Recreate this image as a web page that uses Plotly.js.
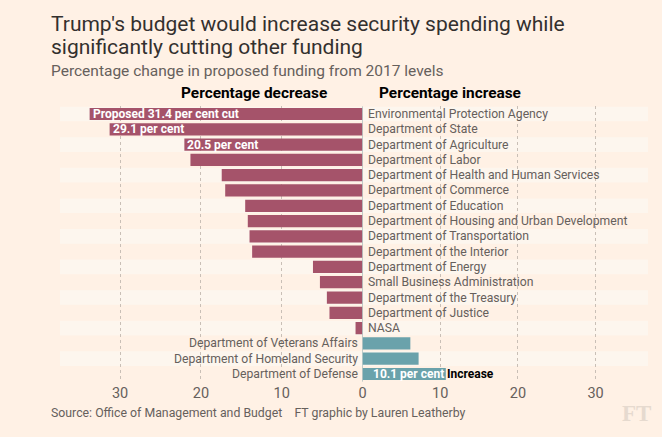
<!DOCTYPE html>
<html>
<head>
<meta charset="utf-8">
<script src="https://cdn.plot.ly/plotly-3.0.1.min.js"></script>
<style>
  html, body { margin: 0; padding: 0; background: #fff1e5; }
  #chart { width: 662px; height: 437px; }
</style>
</head>
<body>
<div id="chart"></div>
<script>
// ---- Data ----
const categories = [
  'Environmental Protection Agency',
  'Department of State',
  'Department of Agriculture',
  'Department of Labor',
  'Department of Health and Human Services',
  'Department of Commerce',
  'Department of Education',
  'Department of Housing and Urban Development',
  'Department of Transportation',
  'Department of the Interior',
  'Department of Energy',
  'Small Business Administration',
  'Department of the Treasury',
  'Department of Justice',
  'NASA',
  'Department of Veterans Affairs',
  'Department of Homeland Security',
  'Department of Defense'
];
const changePct = [-31.4, -29.1, -20.5, -19.8, -16.2, -15.8, -13.5, -13.2, -13.0, -12.7,
                   -5.7, -4.9, -4.1, -3.8, -0.8, 5.8, 6.8, 10.1];
const barLabels = {
  'Environmental Protection Agency': 'Proposed 31.4 per cent cut',
  'Department of State': '29.1 per cent',
  'Department of Agriculture': '20.5 per cent',
  'Department of Defense': '10.1 per cent'
};
const tickValsLeft = [-30, -20, -10, 0];
const tickTextLeft = ['30', '20', '10', '0'];
const tickValsRight = [10, 20, 30];
const tickTextRight = ['10', '20', '30'];

// ---- Styling ----
const W = 662, H = 437;
const BG = '#fff1e5', STRIPE = '#fdf6ee';
const RED = '#a5536a', TEAL = '#6aa2ab';
const GREY = '#66605c', DARK = '#33302e';
const FONT = 'Roboto, "Open Sans", sans-serif';
const px = v => v / W;
const py = v => 1 - v / H;

const xZero = 362.5, xLeft = 60, xRight = 648;
const barScaleL = 8.69, barScaleR = 8.25;   // px per unit for bars
const gridScaleL = 8.08, gridScaleR = 7.77; // px per unit for tick grid

const decIdx = categories.map((c, i) => i).filter(i => changePct[i] < 0);
const incIdx = categories.map((c, i) => i).filter(i => changePct[i] >= 0);

const traces = [
  {
    type: 'bar', orientation: 'h',
    x: decIdx.map(i => changePct[i]), y: decIdx.map(i => categories[i]),
    xaxis: 'x', yaxis: 'y',
    marker: { color: RED, line: { width: 0 } }, width: 0.8,
    hoverinfo: 'x+y', showlegend: false
  },
  {
    type: 'bar', orientation: 'h',
    x: incIdx.map(i => changePct[i]), y: incIdx.map(i => categories[i]),
    xaxis: 'x2', yaxis: 'y',
    marker: { color: TEAL, line: { width: 0 } }, width: 0.8,
    hoverinfo: 'x+y', showlegend: false
  },
  { type: 'scatter', mode: 'markers', x: [0], y: [categories[0]], xaxis: 'x3', yaxis: 'y',
    marker: { opacity: 0 }, hoverinfo: 'skip', showlegend: false },
  { type: 'scatter', mode: 'markers', x: [0], y: [categories[0]], xaxis: 'x4', yaxis: 'y',
    marker: { opacity: 0 }, hoverinfo: 'skip', showlegend: false }
];

const domL = [px(xLeft), px(xZero)];
const domR = [px(xZero), px(xRight)];

const shapes = [];
categories.forEach((c, i) => {
  if (i % 2 === 0) {
    shapes.push({ type: 'rect', layer: 'below', xref: 'paper', yref: 'y',
      x0: px(xLeft), x1: px(xRight), y0: i - 0.48, y1: i + 0.48,
      fillcolor: STRIPE, line: { width: 0 } });
  }
});
shapes.push({ type: 'line', xref: 'x', yref: 'y domain', x0: 0, x1: 0, y0: 0, y1: 1,
  line: { color: '#86a5aa', width: 1 } });

const annotations = [];
// category labels
categories.forEach((c, i) => {
  if (changePct[i] < 0) {
    annotations.push({ xref: 'x2', yref: 'y', x: 0, y: c, text: c, showarrow: false,
      xanchor: 'left', xshift: 3.5, font: { family: FONT, size: 12.2, color: GREY } });
  } else {
    annotations.push({ xref: 'x', yref: 'y', x: 0, y: c, text: c, showarrow: false,
      xanchor: 'right', xshift: -2.5, font: { family: FONT, size: 12.2, color: GREY } });
  }
});
// in-bar labels
categories.forEach((c, i) => {
  if (barLabels[c]) {
    if (changePct[i] < 0) {
      annotations.push({ xref: 'x', yref: 'y', x: changePct[i], y: c, text: '<b>' + barLabels[c] + '</b>',
        showarrow: false, xanchor: 'left', xshift: 1, font: { family: FONT, size: 12, color: '#ffffff' } });
    } else {
      annotations.push({ xref: 'x2', yref: 'y', x: changePct[i], y: c, text: '<b>' + barLabels[c] + '</b>',
        showarrow: false, xanchor: 'right', xshift: 0, font: { family: FONT, size: 12, color: '#ffffff' } });
      annotations.push({ xref: 'x2', yref: 'y', x: changePct[i], y: c, text: '<b>Increase</b>',
        showarrow: false, xanchor: 'left', xshift: -1, font: { family: FONT, size: 12, color: '#000000' } });
    }
  }
});
// headers
annotations.push({ xref: 'paper', yref: 'paper', x: px(254), y: py(93), text: '<b>Percentage decrease</b>',
  showarrow: false, xanchor: 'center', yanchor: 'middle', font: { family: FONT, size: 15.4, color: '#000' } });
annotations.push({ xref: 'paper', yref: 'paper', x: px(377), y: py(93), text: '<b>Percentage increase</b>',
  showarrow: false, xanchor: 'left', yanchor: 'middle', font: { family: FONT, size: 15.4, color: '#000' } });
// title line 2, subtitle, footer, logo
annotations.push({ xref: 'paper', yref: 'paper', x: px(49), y: py(47), text: 'significantly cutting other funding',
  showarrow: false, xanchor: 'left', yanchor: 'middle', font: { family: FONT, size: 21, color: DARK } });
annotations.push({ xref: 'paper', yref: 'paper', x: px(49), y: py(71), text: 'Percentage change in proposed funding from 2017 levels',
  showarrow: false, xanchor: 'left', yanchor: 'middle', font: { family: FONT, size: 15.5, color: GREY } });
annotations.push({ xref: 'paper', yref: 'paper', x: px(49), y: py(413),
  text: 'Source: Office of Management and Budget&nbsp;&nbsp;&nbsp;&nbsp;FT graphic by Lauren Leatherby',
  showarrow: false, xanchor: 'left', yanchor: 'middle', font: { family: FONT, size: 12.3, color: GREY } });
annotations.push({ xref: 'paper', yref: 'paper', x: px(653), y: py(413), text: '<b>FT</b>',
  showarrow: false, xanchor: 'right', yanchor: 'middle', font: { family: '"Liberation Serif", "DejaVu Serif", serif', size: 23, color: '#e6dacf' } });

const axisBase = { showgrid: false, zeroline: false, showline: false, showticklabels: false, ticks: '', fixedrange: true };
const gridAxis = {
  showgrid: true, griddash: 'dot', gridcolor: '#c9bfb6', gridwidth: 1,
  zeroline: false, showline: false, ticks: '', fixedrange: true,
  tickfont: { family: FONT, size: 14.5, color: GREY }, ticklabelstandoff: 1
};

const layout = {
  width: W, height: H,
  paper_bgcolor: BG, plot_bgcolor: 'rgba(0,0,0,0)',
  margin: { l: 0, r: 0, t: 0, b: 0, autoexpand: false },
  showlegend: false,
  title: { text: "Trump's budget would increase security spending while",
    x: px(51), xanchor: 'left', xref: 'container', y: py(24), yanchor: 'middle', yref: 'container',
    font: { family: FONT, size: 21, color: DARK } },
  xaxis: Object.assign({}, axisBase, { domain: domL, anchor: 'y', range: [-(xZero - xLeft) / barScaleL, 0] }),
  xaxis2: Object.assign({}, axisBase, { domain: domR, anchor: 'y', range: [0, (xRight - xZero) / barScaleR] }),
  xaxis3: Object.assign({}, gridAxis, { overlaying: 'x', anchor: 'y', domain: domL,
    range: [-(xZero - xLeft) / gridScaleL, 0], tickmode: 'array', tickvals: tickValsLeft, ticktext: tickTextLeft }),
  xaxis4: Object.assign({}, gridAxis, { overlaying: 'x2', anchor: 'y', domain: domR,
    range: [0, (xRight - xZero) / gridScaleR], tickmode: 'array', tickvals: tickValsRight, ticktext: tickTextRight }),
  yaxis: Object.assign({}, axisBase, { type: 'category', categoryorder: 'array', categoryarray: categories,
    range: [categories.length - 0.5, -0.5], domain: [1 - 381.65 / H, 1 - 106.35 / H], anchor: 'x' }),
  bargap: 0.2,
  shapes: shapes,
  annotations: annotations
};

Plotly.newPlot('chart', traces, layout, { displayModeBar: false, staticPlot: true });
</script>
</body>
</html>
